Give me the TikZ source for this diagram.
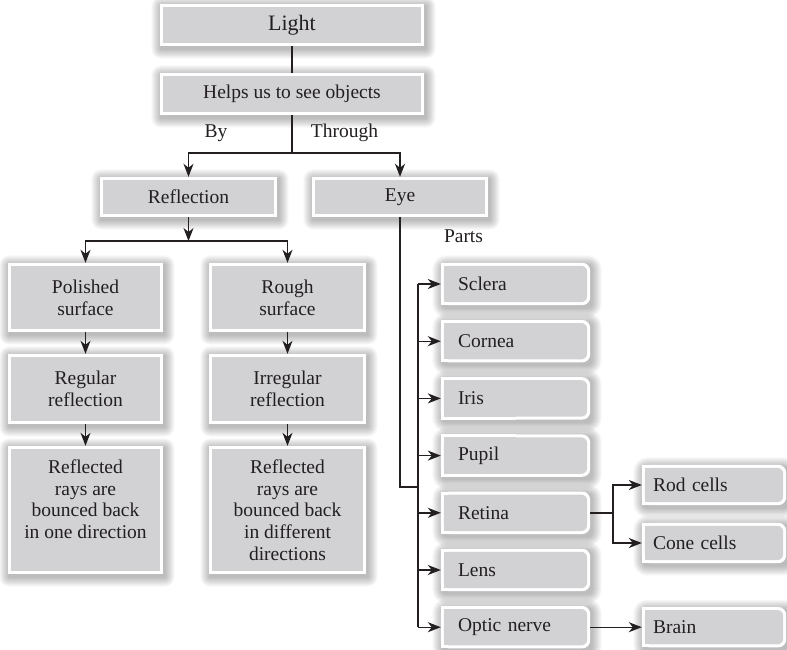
\documentclass[tikz,border=0pt]{standalone}
\usepackage{fontspec}
\setmainfont{Liberation Serif}
\usetikzlibrary{arrows.meta}

\pgfdeclarelayer{paper}
\pgfdeclarelayer{shadow}
\pgfdeclarelayer{boxes}
\pgfsetlayers{paper,shadow,boxes,main}

\definecolor{boxgray}{HTML}{D2D2D4}
\definecolor{ink}{HTML}{231F20}

\tikzset{
  every node/.style={text=ink, font=\fontsize{19.5}{21.7}\selectfont},
  box/.style={rectangle, inner sep=0pt, align=center},
  partbox/.style={rectangle, minimum width=149pt, minimum height=42pt,
    inner ysep=0pt, inner xsep=17pt, text width=115pt, align=left},
  subbox/.style={rectangle, minimum width=144pt, minimum height=40pt,
    inner ysep=0pt, inner xsep=11pt, text width=122pt, align=left},
  conn/.style={draw=ink, line width=1.4pt},
  arr/.style={conn, -{Stealth[length=13pt,width=10pt,inset=4pt]}},
  softshade/.style={fill=black, opacity=0.026},
}

% square box: white rim, grey face, soft shadow
\newcommand\drawplainbox[1]{%
  \begin{pgfonlayer}{boxes}
    \fill[white] (#1.north west) rectangle (#1.south east);
    \fill[boxgray] ([shift={(3,3)}]#1.north west) rectangle ([shift={(-3,-3)}]#1.south east);
  \end{pgfonlayer}
  \begin{pgfonlayer}{shadow}
    \foreach \k in {1,...,10}
      \fill[softshade, rounded corners=\k pt]
        ([shift={(-\k+1.5,-\k+2.5)}]#1.north west) rectangle ([shift={(\k+1.5,\k+2.5)}]#1.south east);
  \end{pgfonlayer}}

% box with rounded right-hand corners
\newcommand\drawpartbox[1]{%
  \begin{pgfonlayer}{boxes}
    \fill[white, rounded corners=8pt] (#1.north west) rectangle (#1.south east);
    \fill[white] (#1.north west) rectangle (#1.south);
    \fill[boxgray, rounded corners=6pt] ([shift={(3,3)}]#1.north west) rectangle ([shift={(-3,-3)}]#1.south east);
    \fill[boxgray] ([shift={(3,3)}]#1.north west) rectangle ([shift={(0,-3)}]#1.south);
  \end{pgfonlayer}
  \begin{pgfonlayer}{shadow}
    \foreach \k in {1,...,10}
      \fill[softshade, rounded corners=\k pt+4pt]
        ([shift={(-\k+1.5,-\k+2.5)}]#1.north west) rectangle ([shift={(\k+1.5,\k+2.5)}]#1.south east);
  \end{pgfonlayer}}

\begin{document}
\begin{tikzpicture}[x=1pt,y=-1pt]
\begin{pgfonlayer}{paper}
  \fill[white] (0,0) rectangle (787,650);
\end{pgfonlayer}
\useasboundingbox (0,0) rectangle (787,650);

% top of the tree
\node[box, minimum width=264pt, minimum height=42pt, font=\fontsize{22}{24}\selectfont] (light) at (292,25) {Light};
\node[box, minimum width=264pt, minimum height=42pt] (helps) at (292,94) {Helps us to see objects};
\node (by) at (216,133) {By};
\node (through) at (344.5,133) {Through};

\node[box, minimum width=177pt, minimum height=40pt] (refl) at (188.5,197) {Reflection};
\node[box, minimum width=176pt, minimum height=40pt] (eye) at (400,197) {Eye};

% reflection branch
\node[box, minimum width=155pt, minimum height=69pt] (pol) at (85.5,297.5) {Polished\\surface};
\node[box, minimum width=157pt, minimum height=69pt] (rough) at (287.5,297.5) {Rough\\surface};
\node[box, minimum width=155pt, minimum height=70pt] (reg) at (85.5,389) {Regular\\reflection};
\node[box, minimum width=157pt, minimum height=70pt] (irreg) at (287.5,389) {Irregular\\reflection};
\node[box, minimum width=155pt, minimum height=128pt] (one) at (85.5,510) {Reflected\\rays are\\bounced back\\in one direction\\~};
\node[box, minimum width=157pt, minimum height=128pt] (diff) at (287.5,510) {Reflected\\rays are\\bounced back\\in different\\directions};

% parts of the eye
\node (parts) at (463.5,236) {Parts};
\node[partbox] (sclera) at (515.5,284) {Sclera};
\node[partbox] (cornea) at (515.5,341.2) {Cornea};
\node[partbox] (iris)   at (515.5,398.4) {Iris};
\node[partbox] (pupil)  at (515.5,455.6) {Pupil};
\node[partbox] (retina) at (515.5,512.8) {Retina};
\node[partbox] (lens)   at (515.5,570) {Lens};
\node[partbox] (optic)  at (515.5,627.2) {Optic nerve};

\node[subbox] (rod)   at (714,485) {Rod cells};
\node[subbox] (cone)  at (714,543) {Cone cells};
\node[subbox] (brain) at (714,627.2) {Brain};

\foreach \n in {light,helps,refl,eye,pol,rough,reg,irreg,one,diff}
  \drawplainbox{\n};
\foreach \n in {sclera,cornea,iris,pupil,retina,lens,optic,rod,cone,brain}
  \drawpartbox{\n};

% connectors
\coordinate (j1) at (292,153);
\coordinate (j2) at (188.5,241);
\coordinate (e1) at (400,487);
\coordinate (e2) at (418,487);
\coordinate (rj) at (613,512.8);

\draw[conn] (light) -- (helps);
\draw[conn] (helps) -- (j1);
\draw[arr] (j1) -| (refl);
\draw[arr] (j1) -| (eye);

\draw[arr] (refl) -- (j2);
\draw[arr] (j2) -| (pol);
\draw[arr] (j2) -| (rough);
\draw[arr] (pol) -- (reg);
\draw[arr] (rough) -- (irreg);
\draw[arr] (reg) -- (one);
\draw[arr] (irreg) -- (diff);

\draw[conn] (eye) -- (e1) -- (e2);
\draw[conn] (sclera.west -| e2) -- (optic.west -| e2);
\foreach \n in {sclera,cornea,iris,pupil,retina,lens,optic}
  \draw[arr] (\n.west -| e2) -- (\n);

\draw[conn] (retina) -- (rj);
\draw[arr] (rj) |- (rod);
\draw[arr] (rj) |- (cone);
\draw[arr] (optic) -- (brain);
\end{tikzpicture}
\end{document}
